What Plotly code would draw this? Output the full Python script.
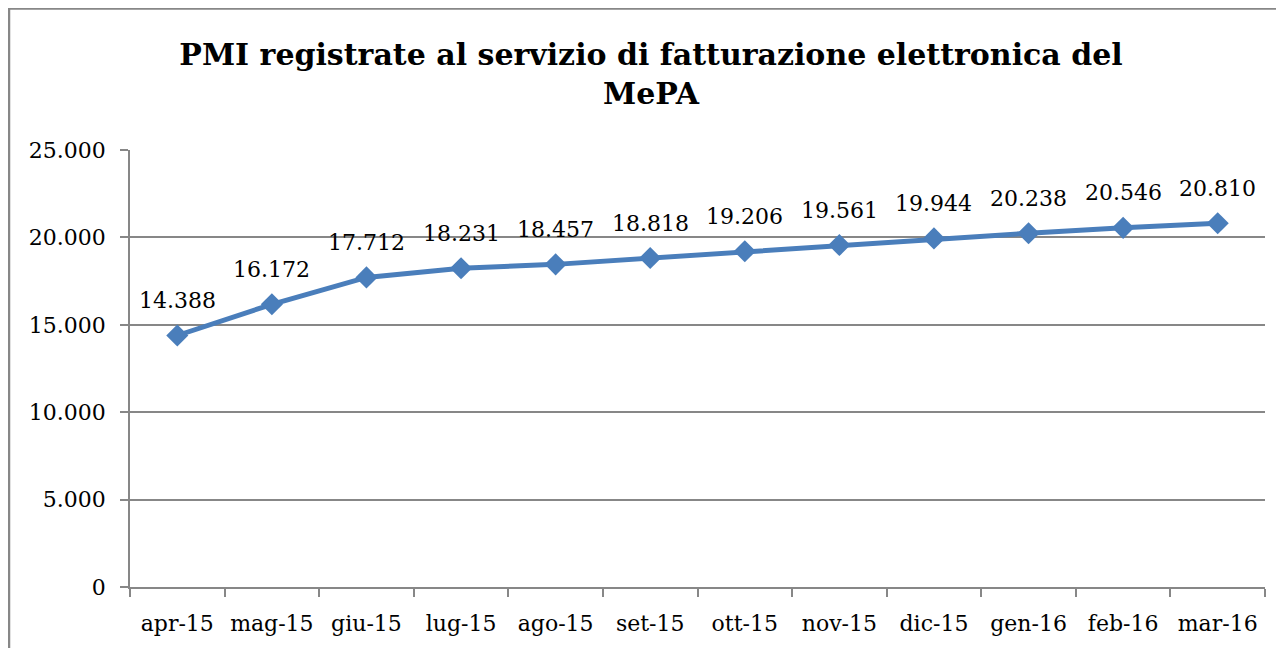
import plotly.graph_objects as go

months = ["apr-15", "mag-15", "giu-15", "lug-15", "ago-15", "set-15",
          "ott-15", "nov-15", "dic-15", "gen-16", "feb-16", "mar-16"]
pmi = [14388, 16172, 17712, 18231, 18457, 18818, 19206, 19561, 19944, 20238, 20546, 20810]

FONT = "DejaVu Serif"
GRID = "#878787"
BLUE = "#4A7EBB"

# page has 8px body margin, so the figure is drawn 8px smaller
W, H = 1276, 640
L, R, T, B = 122, 19, 142, 61
pw, ph = W - L - R, H - T - B

def fmt(v):
    return f"{v:,}".replace(",", ".")

fig = go.Figure()
fig.add_trace(go.Scatter(
    x=months, y=pmi, mode="lines+markers",
    line=dict(color=BLUE, width=5),
    marker=dict(symbol="diamond", size=17, color=BLUE),
    cliponaxis=False, showlegend=False,
))

for m, v in zip(months, pmi):
    fig.add_annotation(x=m, y=v, text=fmt(v), showarrow=False,
                       xanchor="center", yanchor="middle", yshift=35,
                       font=dict(family=FONT, size=22, color="#000000"))

def px2paperx(p):
    return (p - L) / pw

def py2papery(p):
    return (H - B - p) / ph

fig.add_shape(type="rect", xref="paper", yref="paper",
              x0=px2paperx(1), x1=px2paperx(1320), y0=py2papery(720), y1=py2papery(0.5),
              line=dict(color=GRID, width=2.5), fillcolor="rgba(0,0,0,0)", layer="below")

fig.update_layout(
    width=W, height=H,
    margin=dict(l=L, r=R, t=T, b=B),
    paper_bgcolor="white", plot_bgcolor="white",
    separators=",.",
    font=dict(family=FONT, color="#000000"),
    title=dict(text="<b>PMI registrate al servizio di fatturazione elettronica del<br>MePA</b>",
               x=643 / W, xanchor="center", y=1 - 57 / H, yanchor="top",
               font=dict(family=FONT, size=30, color="#000000")),
    xaxis=dict(type="category", range=[-0.5, 11.5], showgrid=False,
               showline=True, linecolor=GRID, linewidth=1.5,
               ticks="outside", tickson="boundaries", ticklen=8, tickcolor=GRID, tickwidth=1.5,
               ticklabelstandoff=16,
               tickfont=dict(family=FONT, size=22), fixedrange=True),
    yaxis=dict(range=[0, 25000], dtick=5000, tickformat=",d",
               showgrid=True, gridcolor=GRID, gridwidth=1.5,
               showline=True, linecolor=GRID, linewidth=1.5,
               ticks="outside", ticklen=8, tickcolor=GRID, tickwidth=1.5,
               ticklabelstandoff=10,
               tickfont=dict(family=FONT, size=22), zeroline=False, fixedrange=True),
)

fig.write_html("out.html")
